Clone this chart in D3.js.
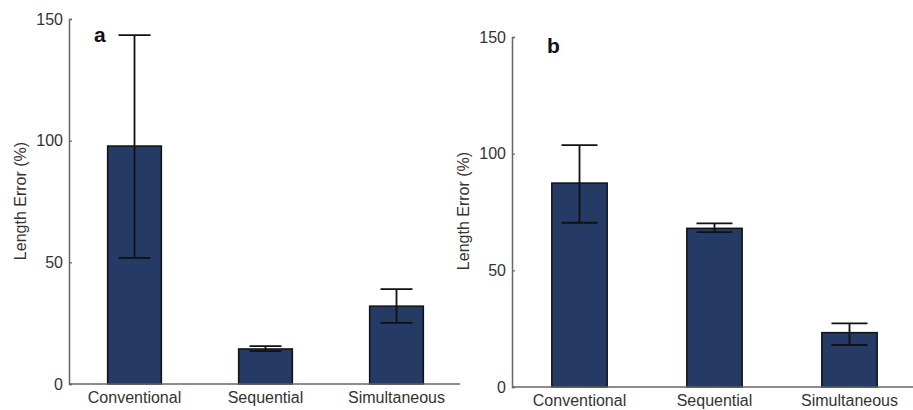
<!DOCTYPE html>
<html>
<head>
<meta charset="utf-8">
<script src="https://cdn.jsdelivr.net/npm/d3@7"></script>
<style>
  body { margin: 0; background: #fff; }
  text { font-family: "Liberation Sans", Arial, sans-serif; }
</style>
</head>
<body>
<svg width="913" height="410"></svg>
<script>
// data
const categories = ['Conventional', 'Sequential', 'Simultaneous'];
const meanA = [97.8, 14.4, 32];
const upperA = [143.4, 15.6, 39];
const lowerA = [51.8, 13.5, 25.1];
const meanB = [87.4, 68, 23.3];
const upperB = [103.7, 70.1, 27.3];
const lowerB = [70.4, 66.4, 18];
const yTicks = [0, 50, 100, 150];

const svg = d3.select('svg');
const barFill = '#263a66';

function drawPanel(cfg) {
    const g = svg.append('g');
    const x = d3.scaleBand()
        .domain(categories)
        .range([cfg.left, cfg.right])
        .paddingInner(0.59)
        .paddingOuter(0.295);
    const y = d3.scaleLinear().domain([0, 150]).range([cfg.bottom, cfg.top]);

    const rows = categories.map((c, i) => ({ c: c, m: cfg.mean[i], hi: cfg.upper[i], lo: cfg.lower[i] }));

    // bars
    g.selectAll('rect.bar')
        .data(rows)
        .enter()
        .append('rect')
        .attr('class', 'bar')
        .attr('x', d => x(d.c))
        .attr('y', d => y(d.m))
        .attr('width', x.bandwidth())
        .attr('height', d => y(0) - y(d.m))
        .attr('fill', barFill)
        .attr('stroke', '#111')
        .attr('stroke-width', 1.5);

    // error bars
    const eb = g.selectAll('g.err')
        .data(rows)
        .enter()
        .append('g')
        .attr('class', 'err')
        .attr('stroke', '#111')
        .attr('stroke-width', 1.8);
    const cx = d => x(d.c) + x.bandwidth() / 2;
    eb.append('line')
        .attr('x1', cx).attr('x2', cx)
        .attr('y1', d => y(d.hi)).attr('y2', d => y(d.lo));
    eb.append('line')
        .attr('x1', d => cx(d) - cfg.cap).attr('x2', d => cx(d) + cfg.cap)
        .attr('y1', d => y(d.hi)).attr('y2', d => y(d.hi));
    eb.append('line')
        .attr('x1', d => cx(d) - cfg.cap).attr('x2', d => cx(d) + cfg.cap)
        .attr('y1', d => y(d.lo)).attr('y2', d => y(d.lo));

    // y axis (matlab style, inward ticks)
    const yAxis = g.append('g')
        .attr('transform', `translate(${cfg.left},0)`)
        .call(d3.axisLeft(y).tickValues(yTicks).tickSize(-3).tickPadding(6));
    yAxis.select('.domain').attr('stroke', '#666').attr('stroke-width', 1.5);
    yAxis.selectAll('.tick line').attr('stroke', '#666').attr('stroke-width', 1.2);
    yAxis.selectAll('.tick text')
        .attr('fill', '#333')
        .style('font-size', '16px')
        .style('font-family', '"Liberation Sans", Arial, sans-serif');

    // x axis
    const xAxis = g.append('g')
        .attr('transform', `translate(0,${cfg.bottom})`)
        .call(d3.axisBottom(x).tickSize(0).tickPadding(8));
    xAxis.select('.domain')
        .attr('d', `M${cfg.left},0H${cfg.axisEnd}`)
        .attr('stroke', '#666').attr('stroke-width', 1.5);
    xAxis.selectAll('.tick text')
        .attr('fill', '#333')
        .style('font-size', '16px')
        .style('font-family', '"Liberation Sans", Arial, sans-serif');

    // axis title
    g.append('text')
        .attr('transform', `translate(${cfg.titleX},${cfg.titleY}) rotate(-90)`)
        .attr('text-anchor', 'middle')
        .attr('fill', '#333')
        .style('font-size', '16px')
        .text('Length Error (%)');

    // panel letter
    g.append('text')
        .attr('x', cfg.letterX)
        .attr('y', cfg.letterY)
        .attr('fill', '#111')
        .style('font-size', '21px')
        .style('font-weight', 'bold')
        .text(cfg.letter);
}

drawPanel({
    left: 69, right: 462, top: 19, bottom: 384, axisEnd: 460,
    mean: meanA, upper: upperA, lower: lowerA, cap: 16,
    titleX: 26, titleY: 201, letter: 'a', letterX: 94, letterY: 42
});

drawPanel({
    left: 512, right: 917, top: 37, bottom: 387, axisEnd: 913,
    mean: meanB, upper: upperB, lower: lowerB, cap: 18,
    titleX: 469, titleY: 211, letter: 'b', letterX: 547, letterY: 53
});
</script>
</body>
</html>
